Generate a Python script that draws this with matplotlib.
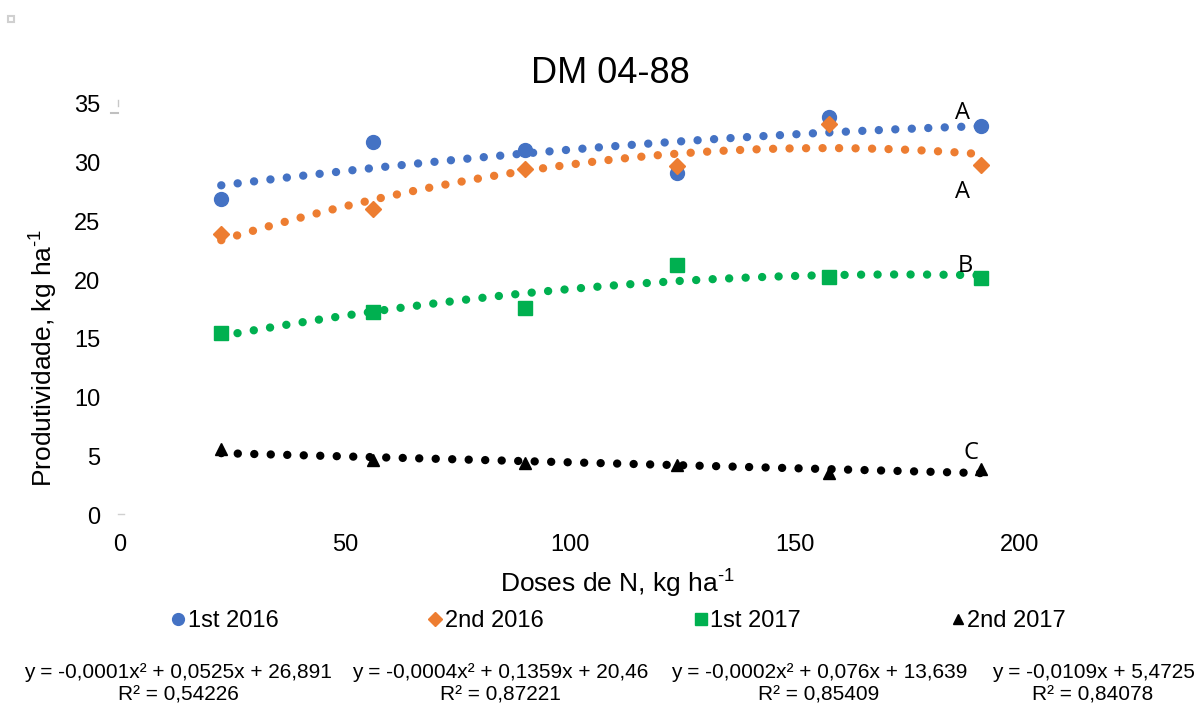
import numpy as np
import matplotlib
matplotlib.use("Agg")
import matplotlib.pyplot as plt
from matplotlib.lines import Line2D
from matplotlib.patches import Rectangle

plt.rcParams['font.family'] = ['Liberation Sans', 'DejaVu Sans']
plt.rcParams['mathtext.fontset'] = 'custom'
plt.rcParams['mathtext.rm'] = 'Liberation Sans'

# ---------------------------------------------------------------
# data
# ---------------------------------------------------------------
doses = [22.5, 56.25, 90, 123.75, 157.5, 191.25]
first_2016 = [26.9, 31.8, 31.1, 29.1, 33.9, 33.1]
second_2016 = [23.9, 26.1, 29.5, 29.7, 33.3, 29.8]
first_2017 = [15.5, 17.3, 17.6, 21.3, 20.3, 20.2]
second_2017 = [5.6, 4.7, 4.4, 4.3, 3.6, 3.9]

series_names = ["1st 2016", "2nd 2016", "1st 2017", "2nd 2017"]
series_colors = ["#4472C4", "#ED7D31", "#00B050", "#000000"]
series_markers = ["o", "D", "s", "^"]
series_sizes = [10, 8, 9.5, 8.5]
fit_degree = [2, 2, 2, 1]

letters = ["A", "A", "B", "C"]
letter_xy = [(187.3, 34.2), (187.3, 27.5), (187.8, 21.2), (189.0, 5.3)]

equations = ["y = -0,0001x² + 0,0525x + 26,891\nR² = 0,54226",
             "y = -0,0004x² + 0,1359x + 20,46\nR² = 0,87221",
             "y = -0,0002x² + 0,076x + 13,639\nR² = 0,85409",
             "y = -0,0109x + 5,4725\nR² = 0,84078"]
equation_x = [178, 500, 819, 1093]

values = [first_2016, second_2016, first_2017, second_2017]

fig = plt.figure(figsize=(12, 7.03), dpi=100)
ax = fig.add_axes([0.1, 1 - 515 / 703, 0.75, (515 - 104) / 703])

x_fit = np.linspace(doses[0], doses[-1], 200)
for y, c, m, s, deg in zip(values, series_colors, series_markers,
                           series_sizes, fit_degree):
    ax.plot(doses, y, linestyle="none", marker=m, color=c, markersize=s,
            zorder=3)
    coef = np.polyfit(doses, y, deg)
    ax.plot(x_fit, np.polyval(coef, x_fit), color=c, linewidth=6,
            linestyle=(0, (0.01, 1.97)), dash_capstyle="round", zorder=2)

for t, (lx, ly) in zip(letters, letter_xy):
    ax.text(lx, ly, t, fontsize=17, family=['Open Sans', 'DejaVu Sans'],
            ha="center", va="center")

ax.set_xlim(0, 200)
ax.set_ylim(0, 35)
ax.set_xticks([0, 50, 100, 150, 200])
ax.set_yticks([0, 5, 10, 15, 20, 25, 30, 35])
ax.tick_params(length=0, labelsize=17)
ax.tick_params(axis="y", pad=14)
ax.tick_params(axis="x", pad=14)
for sp in ax.spines.values():
    sp.set_visible(False)

ax.set_title("DM 04-88", fontsize=26, x=(610 - 120) / 900, y=1.03)
ax.set_xlabel(r"Doses de N, kg ha$^{\text{-1}}$", fontsize=19)
ax.xaxis.set_label_coords((617 - 120) / 900, -(566 - 515) / 411)
ax.set_ylabel(r"Produtividade, kg ha$^{\text{-1}}$", fontsize=19)
ax.yaxis.set_label_coords((59 - 120) / 900, (515 - 358) / 411)

handles = [Line2D([], [], linestyle="none", marker=m, color=c,
                  markersize=s * 0.85)
           for c, m, s in zip(series_colors, series_markers, series_sizes)]
fig.legend(handles, series_names, loc="center", ncol=4,
           bbox_to_anchor=(0.516, 1 - 621 / 703), frameon=False,
           fontsize=17, handlelength=0.5, handletextpad=0.15,
           columnspacing=6.4)

for eq, ex in zip(equations, equation_x):
    line1, line2 = eq.split("\n")
    fig.text(ex / 1200, 1 - 672 / 703, line1, ha="center", va="center",
             fontsize=15)
    fig.text(ex / 1200, 1 - 695 / 703, line2, ha="center", va="center",
             fontsize=15)

# small grey marks present in the original picture
fig.patches.append(Rectangle((8 / 1200, 1 - 22 / 703), 6 / 1200, 6 / 703,
                             transform=fig.transFigure, fill=False,
                             edgecolor="#d0d0d0", linewidth=1.5))
fig.lines.append(Line2D([117.5 / 1200, 117.5 / 1200],
                        [1 - 100 / 703, 1 - 106 / 703],
                        transform=fig.transFigure, color="#c8c8c8", lw=1))
fig.lines.append(Line2D([111 / 1200, 118 / 1200],
                        [1 - 113 / 703, 1 - 113 / 703],
                        transform=fig.transFigure, color="#c0c0c0", lw=1.5))
fig.lines.append(Line2D([118 / 1200, 124 / 1200],
                        [1 - 514 / 703, 1 - 514 / 703],
                        transform=fig.transFigure, color="#d0d0d0", lw=1))

fig.savefig("out.png", dpi=100)
